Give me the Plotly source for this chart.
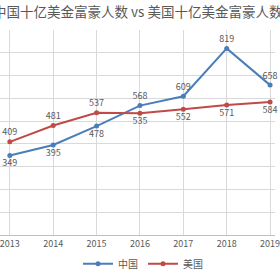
import plotly.graph_objects as go

years = [2013, 2014, 2015, 2016, 2017, 2018, 2019]
china = [349, 395, 478, 568, 609, 819, 658]
usa = [409, 481, 537, 535, 552, 571, 584]
china_pos = ["bottom center"] * 3 + ["top center"] * 4
usa_pos = ["top center"] * 3 + ["bottom center"] * 4
title = "中国十亿美金富豪人数 vs 美国十亿美金富豪人数"

W, H = 280, 280
px_per_year = 44.17
x0 = years[0] - 10 / px_per_year
x1 = years[-1] + 5 / px_per_year

font = "Noto Sans CJK SC"
gray = "#595959"

fig = go.Figure()
fig.add_trace(go.Scatter(
    x=years, y=china, name="中国", mode="lines+markers+text",
    line=dict(color="#4A7EBB", width=2), marker=dict(size=5, color="#4A7EBB"),
    text=[str(v) for v in china], textposition=china_pos,
    textfont=dict(size=9, color=gray, family=font), cliponaxis=False))
fig.add_trace(go.Scatter(
    x=years, y=usa, name="美国", mode="lines+markers+text",
    line=dict(color="#BE4B48", width=2), marker=dict(size=5, color="#BE4B48"),
    text=[str(v) for v in usa], textposition=usa_pos,
    textfont=dict(size=9, color=gray, family=font), cliponaxis=False))

fig.update_layout(
    width=W, height=H,
    margin=dict(l=0, r=0, t=30, b=45),
    paper_bgcolor="white", plot_bgcolor="white",
    font=dict(family=font, color=gray),
    showlegend=True,
    legend=dict(orientation="h", x=0.52, xanchor="center", y=-0.14, yanchor="middle",
                font=dict(size=10, color=gray, family=font), itemwidth=30,
                entrywidth=20, entrywidthmode="pixels",
                bgcolor="rgba(0,0,0,0)"),
    annotations=[dict(text=title, x=0.5, xref="paper", y=(235 - 11) / 205, yref="paper",
                      xanchor="center", yanchor="middle", showarrow=False,
                      font=dict(size=13.5, color=gray, family=font))],
)
fig.update_xaxes(range=[x0, x1], tickvals=years, ticktext=[str(y) for y in years],
                 showgrid=True, gridcolor="#D9D9D9", gridwidth=1, zeroline=False,
                 showline=True, linecolor="#BFBFBF", ticks="",
                 ticklabeloverflow="allow",
                 tickfont=dict(size=9, color=gray, family=font))
fig.update_yaxes(range=[0, 900], dtick=100, showgrid=True, gridcolor="#D9D9D9",
                 zeroline=False, showticklabels=False, showline=False, ticks="")

fig.write_html("out.html")
